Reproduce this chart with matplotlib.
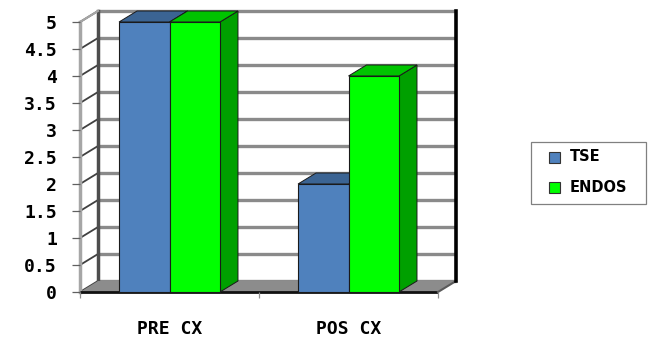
import matplotlib
matplotlib.use("Agg")
import matplotlib.pyplot as plt
from matplotlib.patches import Polygon, Rectangle

# Data
categories = ["PRE CX", "POS CX"]
series_names = ["TSE", "ENDOS"]
tse_values = [5, 2]
endos_values = [5, 4]
y_ticks = [0, 0.5, 1, 1.5, 2, 2.5, 3, 3.5, 4, 4.5, 5]
y_tick_labels = ["0", "0.5", "1", "1.5", "2", "2.5", "3", "3.5", "4", "4.5", "5"]

# Colours: (front, top, side)
tse_colors = ("#4f81bd", "#3b6493", "#30527a")
endos_colors = ("#00ff00", "#00c400", "#00a000")

W, H, DPI = 649, 342, 100
fig = plt.figure(figsize=(W / DPI, H / DPI), dpi=DPI)
fig.patch.set_facecolor("white")

# Front plane of the 3-D box
left_px, right_px, bottom_px, top_px = 80, 438, 292, 22
ax = fig.add_axes([left_px / W, (H - bottom_px) / H,
                   (right_px - left_px) / W, (bottom_px - top_px) / H])
ax.set_xlim(-0.5, len(categories) - 0.5)
ax.set_ylim(0, 5)
ax.patch.set_visible(False)
for s in ax.spines.values():
    s.set_visible(False)

# Depth of the 3-D box, expressed in data units
px_x = (right_px - left_px) / (len(categories))
px_y = (bottom_px - top_px) / 5.0
depth_px = (18, 11)
ddx = depth_px[0] / px_x
ddy = depth_px[1] / px_y

x0, x1 = -0.5, len(categories) - 0.5
ymax = 5

def poly(pts, fc, ec="none", lw=0, z=1):
    p = Polygon(pts, closed=True, facecolor=fc, edgecolor=ec, linewidth=lw,
                zorder=z, clip_on=False, joinstyle="miter")
    ax.add_patch(p)

# Back wall
poly([(x0 + ddx, ddy), (x1 + ddx, ddy), (x1 + ddx, ymax + ddy), (x0 + ddx, ymax + ddy)],
     "white", z=0.5)
for v in y_ticks:
    ax.plot([x0 + ddx, x1 + ddx], [v + ddy, v + ddy], color="#8a8a8a", lw=2.4,
            solid_capstyle="butt", zorder=0.6, clip_on=False)

# Left side wall
poly([(x0, 0), (x0 + ddx, ddy), (x0 + ddx, ymax + ddy), (x0, ymax)], "white", z=0.7)
for v in y_ticks:
    ax.plot([x0, x0 + ddx], [v, v + ddy], color="#404040", lw=1.3,
            zorder=0.8, clip_on=False)
ax.plot([x0, x0], [0, ymax], color="#a6a6a6", lw=2.5, zorder=0.9, clip_on=False)
ax.plot([x0 + ddx, x0 + ddx], [ddy, ymax + ddy], color="#4d4d4d", lw=2.5,
        zorder=0.9, clip_on=False)
ax.plot([x0, x0 + ddx], [ymax, ymax + ddy], color="#a6a6a6", lw=1.5,
        zorder=0.9, clip_on=False)

# Floor
poly([(x0, 0), (x1, 0), (x1 + ddx, ddy), (x0 + ddx, ddy)], "#8c8c8c", z=1)
ax.plot([x0, x1], [0, 0], color="#111111", lw=2.0, zorder=1.1, clip_on=False,
        solid_capstyle="butt")
ax.plot([x1, x1 + ddx], [0, ddy], color="#5a5a5a", lw=1.5, zorder=1.1, clip_on=False)

# Right edge of the back wall
ax.plot([x1 + ddx, x1 + ddx], [ddy, ymax + ddy], color="black", lw=2.6,
        zorder=1.2, clip_on=False)

# 3-D bars
bar_w = 0.282
edge = "#1a1a1a"
for i in range(len(categories)):
    for j, (vals, cols) in enumerate(((tse_values, tse_colors), (endos_values, endos_colors))):
        v = vals[i]
        xl = i - bar_w + j * bar_w
        xr = xl + bar_w
        z = 2 + i * 2 + j * 0.5
        front, top, side = cols
        poly([(xr, 0), (xr + ddx, ddy), (xr + ddx, v + ddy), (xr, v)], side, edge, 0.7, z)
        poly([(xl, v), (xr, v), (xr + ddx, v + ddy), (xl + ddx, v + ddy)], top, edge, 0.7, z + 0.1)
        poly([(xl, 0), (xr, 0), (xr, v), (xl, v)], front, edge, 0.8, z + 0.2)

# Axis ticks and labels
mono = {"family": "DejaVu Sans Mono", "weight": "bold", "size": 13}
ax.set_yticks(y_ticks)
ax.set_yticklabels(y_tick_labels, fontdict=mono)
ax.tick_params(axis="y", direction="out", length=5.8, width=0.9, color="#606060",
               pad=10.8)

ax.set_xticks([x0 + k for k in range(len(categories) + 1)])
ax.set_xticklabels([])
ax.tick_params(axis="x", which="major", direction="out", length=4.5, width=0.9,
               color="#909090")
ax.set_xticks(list(range(len(categories))), minor=True)
ax.set_xticklabels(categories, minor=True, fontdict=mono)
ax.tick_params(axis="x", which="minor", length=0, pad=20.5)

# Legend box (figure pixel layout, origin top-left)
def fx(px):
    return px / W

def fy(py):
    return 1 - py / H

box_l, box_r, box_t, box_b = 531, 646, 142, 204
fig.add_artist(Rectangle((fx(box_l), fy(box_b)), fx(box_r - box_l), (box_b - box_t) / H,
                         transform=fig.transFigure, facecolor="white",
                         edgecolor="#808080", linewidth=0.9))
row_y = [157, 187]
sq = 11
for name, cols, ry in zip(series_names, (tse_colors, endos_colors), row_y):
    fig.add_artist(Rectangle((fx(549), fy(ry + sq / 2)), fx(sq), sq / H,
                             transform=fig.transFigure, facecolor=cols[0],
                             edgecolor="#333333", linewidth=0.8))
    fig.text(fx(570), fy(ry), name, ha="left", va="center",
             family="DejaVu Sans", weight="bold", size=10.5)

fig.savefig("out.png", dpi=DPI, facecolor="white")
